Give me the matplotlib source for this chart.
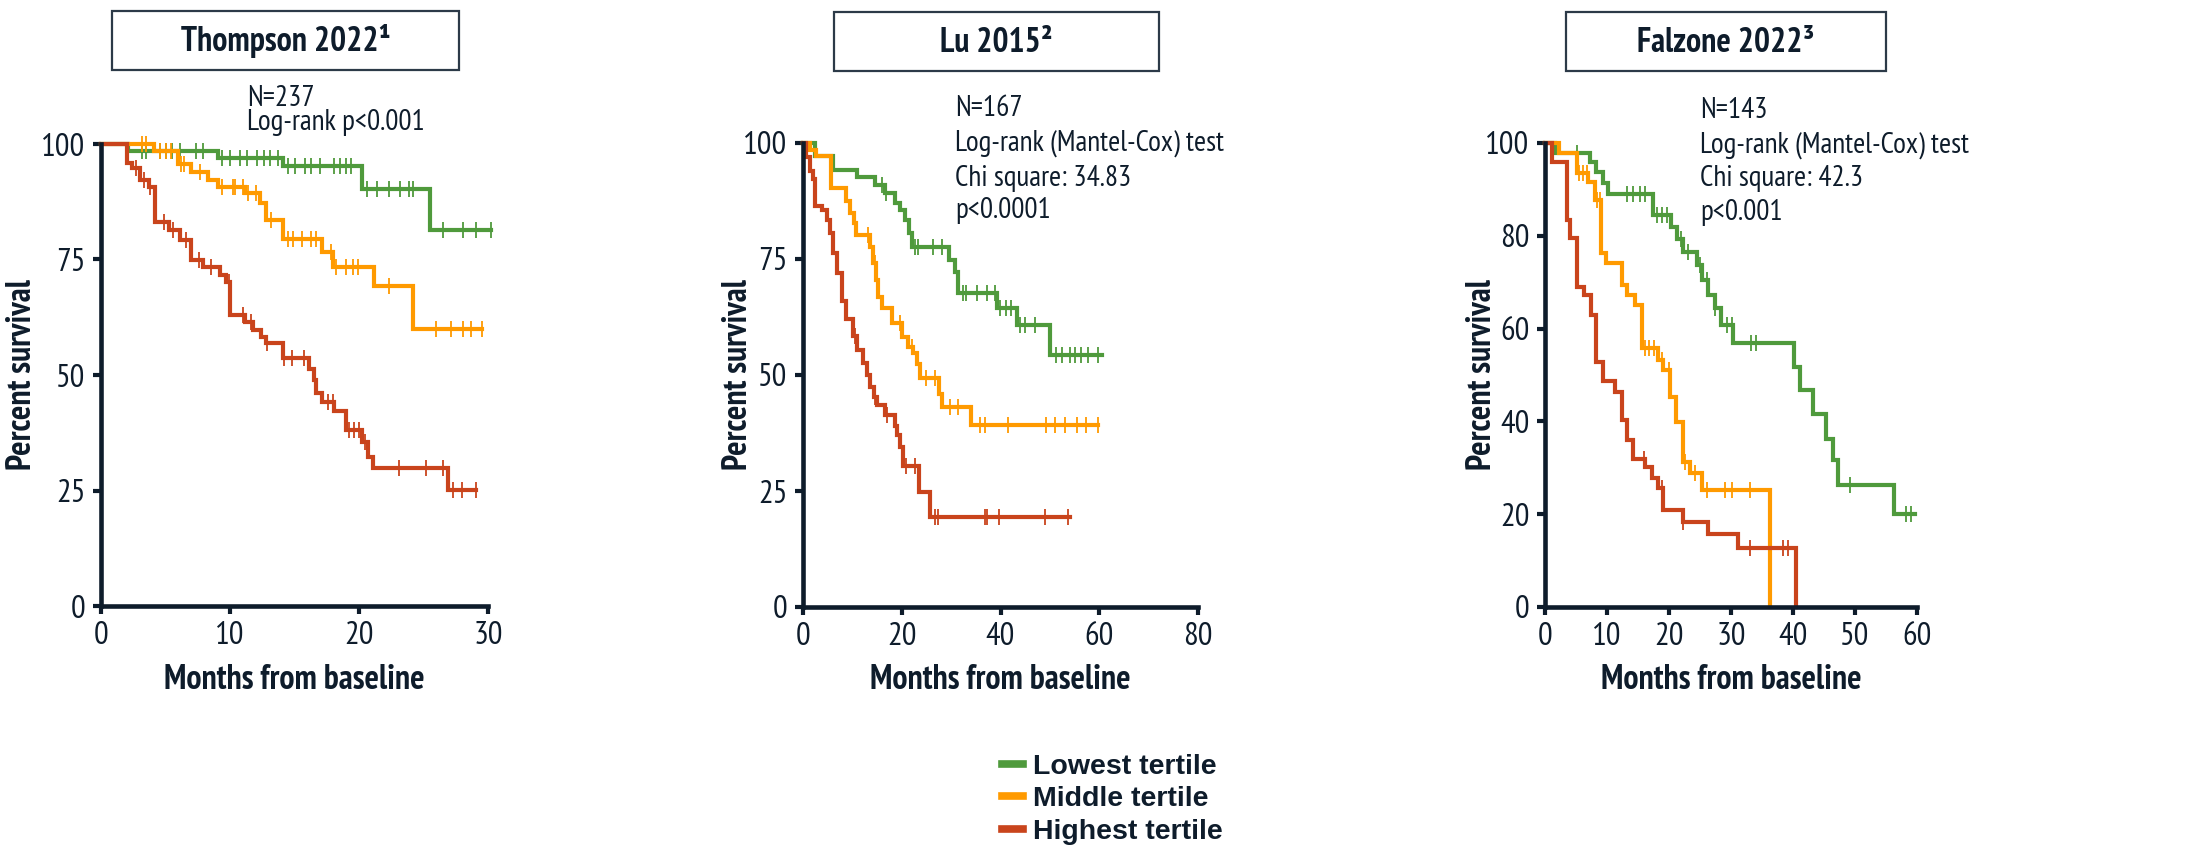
import numpy as np
import matplotlib
matplotlib.use("Agg")
import matplotlib.pyplot as plt
from matplotlib.patches import Rectangle
from matplotlib.lines import Line2D
from matplotlib import font_manager as fm

# ---------------- data ----------------
group_labels = ["Lowest tertile", "Middle tertile", "Highest tertile"]

# Panel 1: Thompson 2022
th_green_t = [0, 2.1, 9.1, 14.1, 20.2, 25.5]
th_green_s = [100, 98.5, 96.9, 95.2, 90.2, 81.4]
th_green_end = 30.2
th_green_c = [3.2, 3.5, 4.6, 5.0, 5.5, 6.1, 7.4, 7.9, 9.4, 10.0, 10.8, 11.3, 12.1, 12.6,
              13.1, 13.7, 14.5, 15.0, 15.8, 16.3, 17.0, 18.1, 18.5, 19.0, 19.4, 20.6,
              21.4, 22.3, 23.2, 23.9, 24.2, 26.5, 28.1, 29.1, 30.2]
th_orange_t = [0, 4.1, 6.0, 7.0, 8.3, 9.1, 11.2, 12.3, 12.8, 14.1, 17.1, 18.0, 21.2, 24.2]
th_orange_s = [100, 98.5, 95.7, 94.0, 92.2, 90.8, 89.3, 87.2, 83.5, 79.4, 76.7, 73.4, 69.3, 59.9]
th_orange_end = 29.5
th_orange_c = [3.2, 3.5, 4.6, 5.0, 5.4, 6.2, 6.4, 7.7, 9.4, 10.2, 10.4, 11.0, 11.4, 12.0,
               13.2, 14.5, 14.9, 15.6, 16.3, 16.7, 17.8, 18.2, 19.0, 19.5, 19.9, 22.3,
               26.0, 27.1, 28.1, 28.7, 29.5]
th_red_t = [0, 2.0, 2.4, 3.0, 3.7, 4.2, 5.3, 6.1, 7.0, 7.9, 9.2, 9.7, 10.0, 11.2, 11.8,
            12.4, 12.8, 14.1, 16.1, 16.5, 16.7, 17.1, 18.1, 19.0, 20.2, 20.7, 21.1, 26.9]
th_red_s = [100, 95.8, 94.7, 92.2, 90.8, 83.2, 81.4, 79.2, 74.9, 73.4, 71.6, 70.2, 63.0,
            61.5, 59.7, 58.3, 56.9, 53.6, 51.4, 49.0, 46.0, 44.2, 42.1, 38.1, 35.6, 32.3,
            29.8, 25.1]
th_red_end = 29.1
th_red_c = [2.7, 3.3, 3.8, 4.9, 5.6, 6.6, 7.6, 8.5, 9.9, 11.0, 11.6, 12.9, 14.2, 14.8,
            15.7, 17.6, 18.0, 19.2, 19.6, 20.0, 20.5, 23.1, 25.2, 26.5, 27.3, 28.0, 29.1]

# Panel 2: Lu 2015
lu_green_t = [0, 2.4, 6.0, 11.0, 14.6, 16.6, 18.6, 19.6, 20.6, 21.5, 22.0, 29.6, 30.8,
              31.4, 39.2, 43.3, 50.1]
lu_green_s = [100, 97.1, 94.2, 92.7, 90.9, 89.2, 87.0, 85.6, 83.4, 80.5, 77.6, 74.8, 72.3,
              67.6, 64.4, 60.8, 54.3]
lu_green_end = 60.5
lu_green_c = [15.9, 16.9, 22.7, 23.3, 26.4, 28.1, 32.5, 33.1, 35.2, 37.2, 38.9, 39.9, 41.2,
              42.2, 43.9, 44.9, 47.0, 51.2, 52.4, 54.0, 55.1, 56.4, 57.8, 59.8]
lu_orange_t = [0, 1.4, 2.6, 5.7, 8.8, 9.5, 10.3, 10.7, 13.6, 14.2, 14.8, 15.2, 16.1, 18.0,
               20.0, 21.3, 22.3, 23.0, 23.7, 27.6, 28.1, 34.1]
lu_orange_s = [100, 98.5, 97.1, 90.2, 87.4, 85.0, 82.7, 80.2, 77.6, 74.1, 70.5, 66.9, 64.4,
               61.1, 58.2, 56.1, 54.7, 52.4, 49.3, 46.0, 43.0, 39.2]
lu_orange_end = 59.8
lu_orange_c = [13.2, 14.5, 19.6, 22.0, 25.0, 26.7, 29.8, 31.4, 35.8, 36.8, 41.6, 49.3, 51.0,
               53.0, 55.4, 57.4, 59.8]
lu_red_t = [0, 0.6, 1.4, 2.1, 2.4, 3.8, 4.8, 5.5, 6.0, 6.8, 7.8, 8.8, 10.2, 10.9, 12.2,
            13.0, 13.6, 14.4, 14.9, 16.6, 18.6, 19.0, 19.6, 20.3, 23.4, 25.7]
lu_red_s = [100, 97.0, 94.0, 92.2, 86.5, 85.6, 83.4, 80.5, 76.2, 72.0, 66.0, 62.0, 58.5,
            55.4, 52.5, 50.0, 47.5, 45.3, 43.5, 41.4, 39.0, 37.1, 34.5, 30.3, 24.8, 19.5]
lu_red_end = 54.0
lu_red_c = [10.5, 14.6, 17.0, 20.8, 22.7, 26.7, 27.4, 36.8, 37.2, 39.6, 49.0, 53.7]

# Panel 3: Falzone 2022
fa_green_t = [0, 1.6, 7.3, 8.3, 9.3, 10.2, 17.4, 20.4, 21.3, 22.3, 24.5, 25.3, 26.3, 27.4,
              28.4, 30.4, 40.1, 41.1, 43.3, 45.3, 46.4, 47.3, 56.3]
fa_green_s = [100, 97.9, 96.0, 93.8, 91.3, 89.1, 84.5, 82.0, 79.4, 76.6, 73.7, 70.5, 67.2,
              64.4, 60.8, 56.8, 51.8, 46.8, 41.7, 36.3, 31.7, 26.3, 20.0]
fa_green_end = 59.7
fa_green_c = [5.1, 13.2, 14.2, 15.3, 16.1, 18.0, 18.8, 19.6, 22.0, 23.1, 25.0, 26.1, 27.4,
              29.3, 30.1, 33.3, 34.1, 49.2, 58.3, 59.1]
fa_orange_t = [0, 2.2, 5.1, 7.0, 8.1, 9.1, 9.8, 12.4, 13.2, 14.5, 15.6, 18.3, 19.1, 20.2,
               21.2, 22.2, 23.4, 25.3, 36.3]
fa_orange_s = [100, 97.9, 93.5, 91.7, 87.7, 76.2, 74.1, 69.4, 67.2, 65.1, 55.8, 53.2, 51.1,
               45.3, 39.9, 31.3, 28.8, 25.2, 0]
fa_orange_end = 36.3
fa_orange_c = [5.5, 6.2, 6.7, 8.4, 8.9, 16.1, 16.7, 17.5, 18.8, 20.0, 22.6, 24.2, 26.1,
               29.0, 30.1, 33.1]
fa_red_t = [0, 1.1, 3.5, 4.0, 5.2, 6.3, 7.4, 8.3, 9.4, 11.3, 12.4, 13.2, 14.2, 16.1, 17.2,
            18.3, 19.1, 22.2, 26.3, 31.1, 40.5]
fa_red_s = [100, 96.0, 83.4, 79.5, 69.0, 67.2, 62.9, 52.9, 48.6, 46.4, 40.3, 36.0, 32.0,
            30.2, 27.7, 25.6, 20.9, 18.4, 15.7, 12.8, 0]
fa_red_end = 40.5
fa_red_c = [15.9, 18.8, 22.3, 33.1, 38.4, 39.2]

titles = ["Thompson 2022\u00b9", "Lu 2015\u00b2", "Falzone 2022\u00b3"]
stats = [["N=237", "Log-rank p<0.001"],
         ["N=167", "Log-rank (Mantel-Cox) test", "Chi square: 34.83", "p<0.0001"],
         ["N=143", "Log-rank (Mantel-Cox) test", "Chi square: 42.3", "p<0.001"]]
xticks = [[0, 10, 20, 30], [0, 20, 40, 60, 80], [0, 10, 20, 30, 40, 50, 60]]
yticks = [[0, 25, 50, 75, 100], [0, 25, 50, 75, 100], [0, 20, 40, 60, 80, 100]]

# ---------------- fonts ----------------
weights = {}
for f in fm.fontManager.ttflist:
    weights.setdefault(f.name, set()).add(f.weight if isinstance(f.weight, int) else 400)
candidates = ["Liberation Sans Narrow", "Arial Narrow", "Archivo Narrow", "PT Sans Narrow",
              "Roboto Condensed", "IBM Plex Sans Condensed", "Fira Sans Condensed",
              "Encode Sans Condensed", "Barlow Semi Condensed", "Open Sans Condensed",
              "Noto Sans Display", "Liberation Sans"]
NARROW_NAME = "Liberation Sans"
for c in candidates:
    w = weights.get(c, set())
    if w and any(x >= 600 for x in w) and any(x <= 500 for x in w):
        NARROW_NAME = c
        break
NARROW = [NARROW_NAME, "Liberation Sans", "DejaVu Sans"]
REG = ["Liberation Sans", "DejaVu Sans"]
plt.rcParams["font.family"] = NARROW

# ---------------- style ----------------
W, H = 2192, 846
GREEN, ORANGE, RED = "#4f9a3c", "#ff9a00", "#c9441c"
NAVY = "#0e1c2b"

fig = plt.figure(figsize=(W / 100, H / 100), dpi=100)
renderer = fig.canvas.get_renderer()

def measure(s, size, weight):
    t = fig.text(0, 0, s, fontsize=size, fontweight=weight)
    wpx = t.get_window_extent(renderer).width
    t.remove()
    return wpx

# scale sizes so text widths match the reference
kb = 260.0 / measure("Months from baseline", 22, "bold")
kr = 177.0 / measure("Log-rank p<0.001", 19, "normal")
kt = 44.0 / measure("100", 21, "normal")
LAB = 22 * kb
TIT = 22 * kb
STAT = 19 * kr
TICK = 21 * kt

def fx(px):
    return px / W

def fy(py):
    return 1 - py / H

panels = [
    dict(rect=(101, 144, 488, 606), xlim=30,
         curves=[(th_green_t, th_green_s, th_green_end, th_green_c, GREEN),
                 (th_orange_t, th_orange_s, th_orange_end, th_orange_c, ORANGE),
                 (th_red_t, th_red_s, th_red_end, th_red_c, RED)],
         ylab_x=22, box=(112, 11, 459, 70), stat_x=247, stat_y=[99, 123]),
    dict(rect=(803, 143, 1198, 607), xlim=80,
         curves=[(lu_green_t, lu_green_s, lu_green_end, lu_green_c, GREEN),
                 (lu_orange_t, lu_orange_s, lu_orange_end, lu_orange_c, ORANGE),
                 (lu_red_t, lu_red_s, lu_red_end, lu_red_c, RED)],
         ylab_x=738, box=(834, 12, 1159, 71), stat_x=955, stat_y=[108, 143, 178, 211]),
    dict(rect=(1545, 143, 1917, 607), xlim=60,
         curves=[(fa_green_t, fa_green_s, fa_green_end, fa_green_c, GREEN),
                 (fa_orange_t, fa_orange_s, fa_orange_end, fa_orange_c, ORANGE),
                 (fa_red_t, fa_red_s, fa_red_end, fa_red_c, RED)],
         ylab_x=1482, box=(1566, 12, 1886, 71), stat_x=1700, stat_y=[110, 145, 178, 213]),
]

for i, p in enumerate(panels):
    l, t, r, b = p["rect"]
    ax = fig.add_axes([fx(l), fy(b), (r - l) / W, (b - t) / H])
    for (tt, ss, end, cc, col) in p["curves"]:
        tt = np.asarray(tt, float)
        ss = np.asarray(ss, float)
        xs = np.append(tt, end)
        ys = np.append(ss, ss[-1])
        ax.step(xs, ys, where="post", color=col, lw=3.0, clip_on=False,
                solid_joinstyle="miter", zorder=3)
        cc = np.asarray(cc, float)
        idx = np.searchsorted(tt, cc, side="right") - 1
        ax.plot(cc, ss[idx], ls="none", marker="|", ms=12, mew=1.3, color=col,
                clip_on=False, zorder=3)
    ax.set_xlim(0, p["xlim"])
    ax.set_ylim(0, 100)
    ax.set_xticks(xticks[i])
    ax.set_yticks(yticks[i])
    for s in ["top", "right"]:
        ax.spines[s].set_visible(False)
    for s in ["left", "bottom"]:
        ax.spines[s].set_color(NAVY)
        ax.spines[s].set_linewidth(3.3)
        ax.spines[s].set_zorder(4)
    ax.tick_params(direction="out", length=6, width=3, color=NAVY, labelsize=TICK,
                   labelcolor=NAVY, pad=5)
    ax.set_facecolor("none")
    ax.set_xlabel("Months from baseline", fontsize=LAB, fontweight="bold", color=NAVY)
    ax.set_ylabel("Percent survival", fontsize=LAB, fontweight="bold", color=NAVY)
    ax.xaxis.set_label_coords(0.5, (b - 680) / (b - t))
    ax.xaxis.label.set_va("center")
    ax.yaxis.set_label_coords((p["ylab_x"] - l) / (r - l), 0.5)
    ax.yaxis.label.set_va("center")

    bl, bt, br, bb = p["box"]
    fig.add_artist(Rectangle((fx(bl), fy(bb)), (br - bl) / W, (bb - bt) / H,
                             transform=fig.transFigure, fill=False,
                             edgecolor="#2c3a48", lw=1.6))
    fig.text(fx((bl + br) / 2), fy((bt + bb) / 2 + 1), titles[i], ha="center",
             va="center", fontsize=TIT, fontweight="bold", color=NAVY)
    for line, yy in zip(stats[i], p["stat_y"]):
        fig.text(fx(p["stat_x"]), fy(yy), line, ha="left", va="center",
                 fontsize=STAT, color=NAVY)

handles = [Line2D([], [], color=c, lw=5.5) for c in (GREEN, ORANGE, RED)]
fig.legend(handles, group_labels, loc="upper left",
           bbox_to_anchor=(fx(1002), fy(754)), frameon=False,
           prop=dict(family=REG, weight="bold", size=20.5),
           handlelength=0.75, handletextpad=0.35, labelspacing=0.22,
           borderpad=0, borderaxespad=0, labelcolor=NAVY)

fig.savefig("out.png", dpi=100)
